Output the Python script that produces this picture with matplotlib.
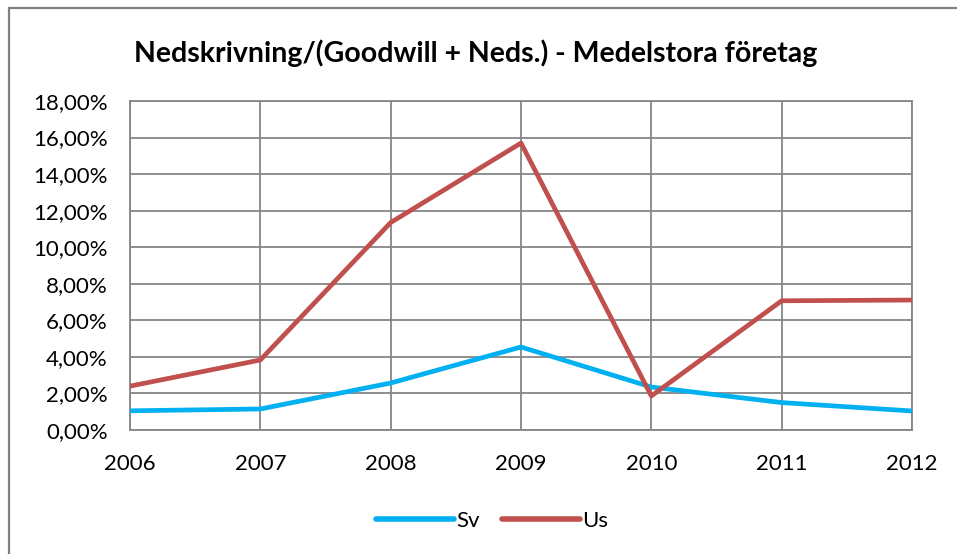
import matplotlib
matplotlib.use('Agg')
import matplotlib.pyplot as plt
from matplotlib.patches import Rectangle
from matplotlib.ticker import FuncFormatter

plt.rcParams['font.family'] = ['Lato', 'DejaVu Sans']

# data (andelar i procent)
years = [2006, 2007, 2008, 2009, 2010, 2011, 2012]
sv = [1.05, 1.15, 2.57, 4.54, 2.35, 1.50, 1.04]
us = [2.40, 3.83, 11.35, 15.70, 1.86, 7.07, 7.11]
yticks = [0, 2, 4, 6, 8, 10, 12, 14, 16, 18]

W, H = 957, 554
fig = plt.figure(figsize=(W / 100, H / 100), dpi=100)
ax = fig.add_axes([130 / W, 1 - 430 / H, (912 - 130) / W, (430 - 101) / H])

grid_c = '#868686'
ax.plot(years, sv, color='#00B0F0', lw=3.4, label='Sv', solid_capstyle='butt', zorder=3)
ax.plot(years, us, color='#C0504D', lw=3.4, label='Us', solid_capstyle='butt', zorder=3)

ax.set_xlim(2006, 2012)
ax.set_ylim(0, 18)
ax.set_yticks(yticks)
ax.set_xticks(years)
ax.yaxis.set_major_formatter(FuncFormatter(lambda v, p: f'{v:.2f}%'.replace('.', ',')))
ax.grid(True, color=grid_c, lw=1.3)
ax.tick_params(length=0, labelsize=16, colors='black', pad=16)
ax.tick_params(axis='x', pad=17)
for s in ax.spines.values():
    s.set_color(grid_c)
    s.set_linewidth(1.3)

fig.text(476 / W, 1 - 53 / H, 'Nedskrivning/(Goodwill + Neds.) - Medelstora företag',
         ha='center', va='center', fontsize=20.5, fontweight='bold')

leg = fig.legend(loc='center', bbox_to_anchor=(492 / W, 1 - 521 / H), ncol=2,
                 frameon=False, fontsize=16, handlelength=3.5, handletextpad=0.1,
                 columnspacing=1.0)
for l in leg.get_lines():
    l.set_solid_capstyle('round')
    l.set_linewidth(4.0)

# ram runt diagrammet
fig.patches.append(Rectangle((8.5 / W, -0.1), 1.2, 1 - 8.5 / H + 0.1, transform=fig.transFigure,
                             fill=False, edgecolor='#7f7f7f', lw=1.6))

fig.savefig('out.png', dpi=100)
